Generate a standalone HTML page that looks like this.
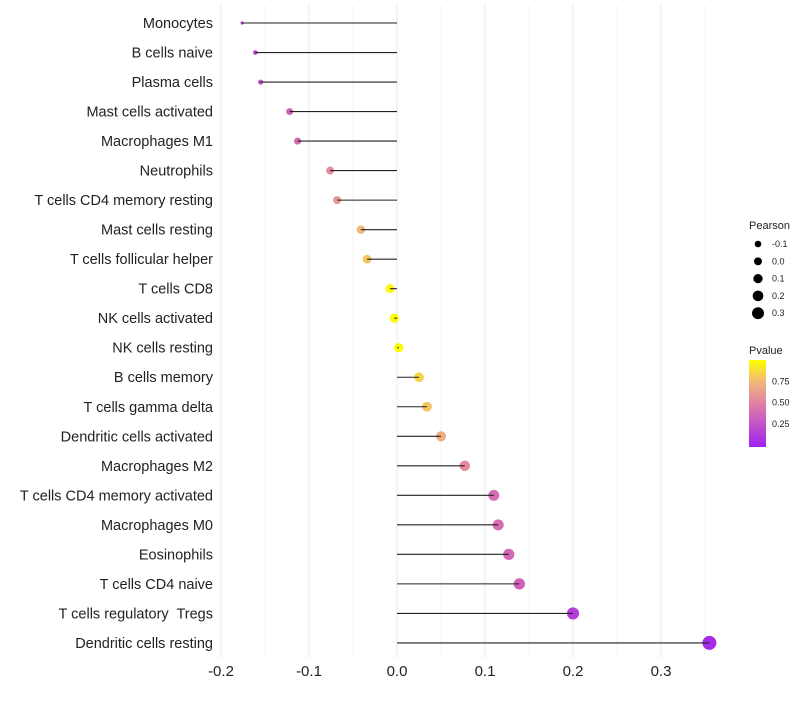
<!DOCTYPE html>
<html><head><meta charset="utf-8"><style>
body{margin:0;background:#fff;font-family:"Liberation Sans",sans-serif}
text{white-space:pre}
</style></head><body>
<svg id="c" width="800" height="700" xmlns="http://www.w3.org/2000/svg"></svg>
<script>
const categories=["Monocytes","B cells naive","Plasma cells","Mast cells activated","Macrophages M1","Neutrophils","T cells CD4 memory resting","Mast cells resting","T cells follicular helper","T cells CD8","NK cells activated","NK cells resting","B cells memory","T cells gamma delta","Dendritic cells activated","Macrophages M2","T cells CD4 memory activated","Macrophages M0","Eosinophils","T cells CD4 naive","T cells regulatory  Tregs","Dendritic cells resting"];
const pearson=[-0.176,-0.161,-0.155,-0.122,-0.113,-0.076,-0.068,-0.041,-0.034,-0.008,-0.003,0.002,0.025,0.034,0.05,0.077,0.11,0.115,0.127,0.139,0.2,0.355];
const pvalue=[0.15,0.2,0.25,0.35,0.4,0.55,0.6,0.75,0.8,0.97,0.99,0.99,0.85,0.8,0.7,0.55,0.4,0.4,0.38,0.35,0.15,0.05];
const xTicks=[-0.2,-0.1,0,0.1,0.2,0.3];
const xTickLabels=["-0.2","-0.1","0.0","0.1","0.2","0.3"];
const sizeLegend=[-0.1,0.0,0.1,0.2,0.3];
const pLegend=[0.25,0.5,0.75];
const NS="http://www.w3.org/2000/svg",svg=document.getElementById('c');
function el(t,a,p){const e=document.createElementNS(NS,t);for(const k in a)e.setAttribute(k,a[k]);(p||svg).appendChild(e);return e;}
const X=v=>397+v*880;
const Y=i=>23+i*29.52;
const R=v=>Math.sqrt(Math.max(2.25,21.6+77*v+(v<-0.13?120*(v+0.13):0)));
const RL=v=>3.3+(v+0.1)*6.7;
function col(p){const stops=[[0,[160,32,240]],[0.5,[226,128,164]],[0.75,[240,184,120]],[1,[255,255,0]]];
for(let i=1;i<stops.length;i++){if(p<=stops[i][0]){const a=stops[i-1],b=stops[i],t=(p-a[0])/(b[0]-a[0]);return 'rgb('+a[1].map((c,j)=>Math.round(c+(b[1][j]-c)*t)).join(',')+')';}}return 'rgb(255,255,0)';}
for(let v=-0.2;v<=0.351;v+=0.05){const g=el('line',{x1:X(v),x2:X(v),y1:5,y2:658,stroke:'#ebebeb','stroke-width':Math.abs(Math.round(v*20)%2)?0.6:1.1});
}
xTicks.forEach((v,i)=>{const t=el('text',{x:X(v),y:676,'font-size':15,'text-anchor':'middle',fill:'#222'});t.textContent=xTickLabels[i];
});
categories.forEach((c,i)=>{const y=Y(i);
const t=el('text',{x:213,y:y+5,'font-size':14.5,'text-anchor':'end',fill:'#222'});t.textContent=c;

const d=el('circle',{cx:X(pearson[i]),cy:y,r:R(pearson[i]),fill:col(pvalue[i])});

const l=el('line',{x1:X(0),x2:X(pearson[i]),y1:y,y2:y,stroke:'#222','stroke-width':1.1});
});
let t=el('text',{x:749,y:229,'font-size':11,fill:'#222'});t.textContent='Pearson';

sizeLegend.forEach((v,i)=>{const y=244+i*17.3;const c=el('circle',{cx:758,cy:y,r:RL(v),fill:'#000'});

const s=el('text',{x:772,y:y+3,'font-size':9,fill:'#222'});s.textContent=v.toFixed(1);
});
t=el('text',{x:749,y:354,'font-size':11,fill:'#222'});t.textContent='Pvalue';

const defs=el('defs',{});const lg=el('linearGradient',{id:'g',x1:0,y1:1,x2:0,y2:0},defs);
[0,0.25,0.5,0.75,1].forEach(p=>el('stop',{offset:p,'stop-color':col(p)},lg));
const bar=el('rect',{x:749,y:360,width:17,height:87,fill:'url(#g)'});

pLegend.forEach(p=>{const y=445-p*85;
const s=el('text',{x:772,y:y+3,'font-size':9,fill:'#222'});s.textContent=p.toFixed(2);
});
</script>
</body></html>
